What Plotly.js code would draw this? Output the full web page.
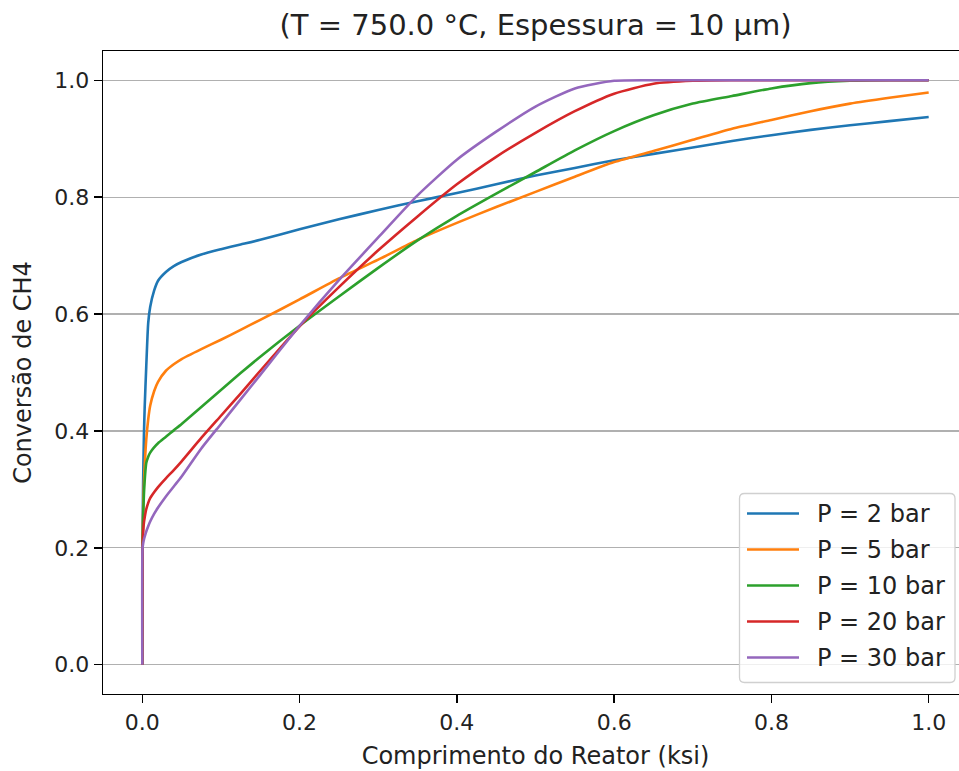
<!DOCTYPE html>
<html>
<head>
<meta charset="utf-8">
<script src="https://cdn.plot.ly/plotly-3.0.1.min.js"></script>
<style>html,body{margin:0;padding:0;background:#fff;overflow:hidden;width:959px;height:771px}#chart{width:968px;height:771px}</style>
</head>
<body>
<div id="chart"></div>
<script>
// Reactor length (ksi) sample points
const ksi = [0, 0.0003, 0.001, 0.002, 0.003, 0.005, 0.0075, 0.01, 0.015, 0.02, 0.03, 0.04, 0.05, 0.075, 0.1, 0.125, 0.15, 0.2, 0.25, 0.3, 0.35, 0.4, 0.45, 0.5, 0.55, 0.6, 0.65, 0.7, 0.75, 0.8, 0.85, 0.9, 0.95, 1.0];

// CH4 conversion per pressure
const p2  = [0, 0.2, 0.31, 0.39, 0.44, 0.51, 0.585, 0.612, 0.640, 0.657, 0.672, 0.682, 0.689, 0.702, 0.711, 0.719, 0.727, 0.745, 0.762, 0.778, 0.793, 0.807, 0.822, 0.837, 0.850, 0.863, 0.874, 0.885, 0.896, 0.906, 0.915, 0.923, 0.930, 0.937];
const p5  = [0, 0.2, 0.26, 0.31, 0.34, 0.385, 0.42, 0.443, 0.468, 0.484, 0.503, 0.514, 0.523, 0.540, 0.556, 0.573, 0.590, 0.625, 0.661, 0.693, 0.727, 0.756, 0.783, 0.809, 0.835, 0.860, 0.879, 0.898, 0.917, 0.932, 0.947, 0.960, 0.970, 0.979];
const p10 = [0, 0.2, 0.25, 0.29, 0.315, 0.345, 0.356, 0.363, 0.372, 0.379, 0.390, 0.401, 0.412, 0.441, 0.470, 0.499, 0.527, 0.580, 0.630, 0.679, 0.726, 0.768, 0.806, 0.843, 0.880, 0.913, 0.940, 0.960, 0.973, 0.986, 0.995, 0.999, 1.0, 1.0];
const p20 = [0, 0.2, 0.225, 0.243, 0.252, 0.266, 0.277, 0.285, 0.295, 0.304, 0.319, 0.333, 0.348, 0.388, 0.426, 0.464, 0.503, 0.579, 0.646, 0.709, 0.767, 0.822, 0.869, 0.910, 0.947, 0.977, 0.994, 0.999, 1.0, 1.0, 1.0, 1.0, 1.0, 1.0];
const p30 = [0, 0.2, 0.207, 0.214, 0.219, 0.228, 0.237, 0.245, 0.258, 0.269, 0.288, 0.305, 0.322, 0.370, 0.412, 0.454, 0.496, 0.580, 0.658, 0.731, 0.803, 0.864, 0.912, 0.955, 0.986, 0.999, 1.0, 1.0, 1.0, 1.0, 1.0, 1.0, 1.0, 1.0];

const seriesNames = ['P = 2 bar', 'P = 5 bar', 'P = 10 bar', 'P = 20 bar', 'P = 30 bar'];
const seriesVals = [p2, p5, p10, p20, p30];
const colors = ['#1f77b4', '#ff7f0e', '#2ca02c', '#d62728', '#9467bd'];

const yTicks = [0, 0.2, 0.4, 0.6, 0.8, 1.0];
const yTickText = ['0.0', '0.2', '0.4', '0.6', '0.8', '1.0'];
const xTicks = [0, 0.2, 0.4, 0.6, 0.8, 1.0];
const xTickText = ['0.0', '0.2', '0.4', '0.6', '0.8', '1.0'];

const FONT = 'DejaVu Sans, sans-serif';
const W = 968, H = 771;
const M = {l: 103, r: 0, t: 51, b: 77};
const PW = W - M.l - M.r, PH = H - M.t - M.b;
const px2x = p => (p - M.l) / PW;          // pixel -> paper x
const px2y = p => (H - M.b - p) / PH;      // pixel -> paper y

const traces = seriesVals.map((vals, i) => ({
  x: ksi, y: vals, type: 'scatter', mode: 'lines', name: seriesNames[i],
  line: {color: colors[i], width: 2.6, shape: 'spline', smoothing: 0.6},
  showlegend: false
}));

// Matplotlib-style legend box (drawn with shapes/annotations)
const box = {x0: 739.5, x1: 955, y0: 493.5, y1: 682.5, r: 5};
const bx0 = px2x(box.x0), bx1 = px2x(box.x1), by0 = px2y(box.y1), by1 = px2y(box.y0);
const rx = box.r / PW, ry = box.r / PH;
const boxPath = `M${bx0 + rx},${by0} L${bx1 - rx},${by0} Q${bx1},${by0} ${bx1},${by0 + ry} L${bx1},${by1 - ry} Q${bx1},${by1} ${bx1 - rx},${by1} L${bx0 + rx},${by1} Q${bx0},${by1} ${bx0},${by1 - ry} L${bx0},${by0 + ry} Q${bx0},${by0} ${bx0 + rx},${by0} Z`;
const shapes = [{type: 'path', xref: 'paper', yref: 'paper', path: boxPath,
  fillcolor: 'rgba(255,255,255,0.8)', line: {color: '#d0d0d0', width: 1.3}, layer: 'above'}];
const annotations = [];
seriesNames.forEach((n, i) => {
  const yy = px2y(513.5 + 36 * i);
  shapes.push({type: 'line', xref: 'paper', yref: 'paper', x0: px2x(747), x1: px2x(799), y0: yy, y1: yy,
    line: {color: colors[i], width: 2.6}, layer: 'above'});
  annotations.push({xref: 'paper', yref: 'paper', x: px2x(815), y: yy, xanchor: 'left', yanchor: 'middle',
    text: n, showarrow: false, font: {family: FONT, size: 24, color: '#222'}});
});

const layout = {
  width: W, height: H,
  paper_bgcolor: '#fff', plot_bgcolor: '#fff',
  margin: {l: M.l, r: M.r, t: M.t, b: M.b, pad: 0},
  font: {family: FONT, size: 22, color: '#222'},
  title: {text: '(T = 750.0 °C, Espessura = 10 μm)', font: {family: FONT, size: 29, color: '#222'},
          xref: 'paper', x: 0.5, xanchor: 'center', yref: 'container', y: 1 - 25/771, yanchor: 'middle'},
  xaxis: {
    range: [-0.05, 1.05], tickvals: xTicks, ticktext: xTickText,
    showgrid: false, zeroline: false, showline: true, linecolor: '#000', linewidth: 1.3, mirror: true,
    ticks: 'outside', ticklen: 8, tickwidth: 1.3, tickcolor: '#000',
    tickfont: {family: FONT, size: 22, color: '#222'},
    title: {text: 'Comprimento do Reator (ksi)', font: {family: FONT, size: 24, color: '#222'}, standoff: 13}
  },
  yaxis: {
    range: [-0.05, 1.05], tickvals: yTicks, ticktext: yTickText,
    showgrid: true, gridcolor: '#b0b0b0', gridwidth: 1.2, zeroline: false,
    showline: true, linecolor: '#000', linewidth: 1.3, mirror: true,
    ticks: 'outside', ticklen: 8, tickwidth: 1.3, tickcolor: '#000',
    tickfont: {family: FONT, size: 22, color: '#222'},
    title: {text: 'Conversão de CH4', font: {family: FONT, size: 24, color: '#222'}, standoff: 16}
  },
  shapes: shapes,
  annotations: annotations,
  showlegend: false
};

Plotly.newPlot('chart', traces, layout, {displayModeBar: false, staticPlot: true});
</script>
</body>
</html>
